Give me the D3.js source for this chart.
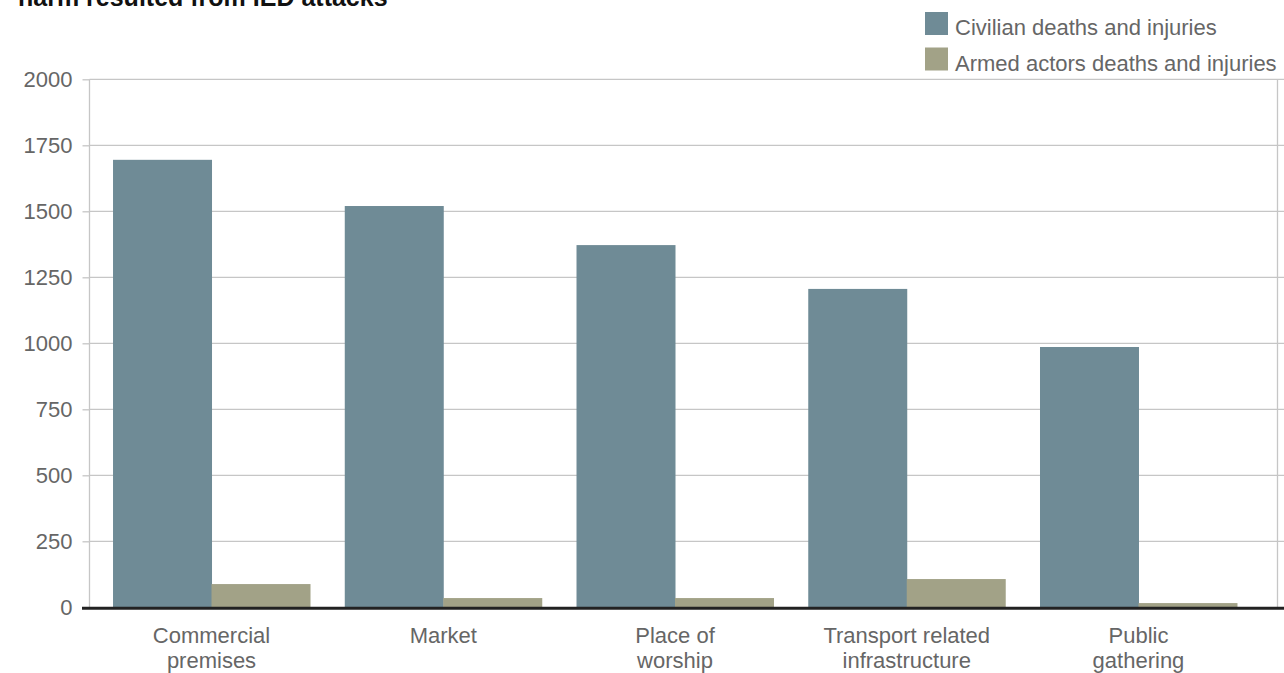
<!DOCTYPE html>
<html>
<head>
<meta charset="utf-8">
<script src="https://cdn.jsdelivr.net/npm/d3@7"></script>
<style>
  html, body { margin: 0; padding: 0; background: #fff; }
  svg { display: block; font-family: "Liberation Sans", Arial, Helvetica, sans-serif; }
</style>
</head>
<body>
<svg id="chart" width="1284" height="673"></svg>
<script>
// Deaths and injuries by target type
const categories = ["Commercial premises", "Market", "Place of worship", "Transport related infrastructure", "Public gathering"];
const categoryLines = [["Commercial", "premises"], ["Market"], ["Place of", "worship"], ["Transport related", "infrastructure"], ["Public", "gathering"]];
const seriesNames = ["Civilian deaths and injuries", "Armed actors deaths and injuries"];
const civilian = [1695, 1520, 1372, 1206, 986];
const armed = [88, 35, 35, 107, 16];
const yTicks = [0, 250, 500, 750, 1000, 1250, 1500, 1750, 2000];
const titleText = "harm resulted from IED attacks";

const colors = ["#6f8b96", "#a2a287"];
const textColor = "#666666";

const svg = d3.select("#chart");
const W = 1284, H = 673;
const plot = { left: 89.5, right: 1277.5, top: 79.3, bottom: 607.3 };

const x = d3.scaleBand()
  .domain(categories)
  .range([80, 1270])
  .paddingInner(0.15)
  .paddingOuter(0.1425);

const xSeries = d3.scaleBand()
  .domain(seriesNames)
  .range([0, x.bandwidth()]);

const y = d3.scaleLinear()
  .domain([0, 2000])
  .range([plot.bottom, plot.top]);

// Title (first visible line)
svg.append("text")
  .attr("x", 18)
  .attr("y", 5.5)
  .attr("font-size", 25)
  .attr("font-weight", "bold")
  .attr("fill", "#111")
  .text(titleText);

// Horizontal gridlines
svg.append("g")
  .selectAll("line")
  .data(yTicks.filter(d => d > 0))
  .join("line")
  .attr("x1", plot.left)
  .attr("x2", W)
  .attr("y1", d => y(d))
  .attr("y2", d => y(d))
  .attr("stroke", "#c6c6c6")
  .attr("stroke-width", 1.3);

// Frame sides
svg.append("line")
  .attr("x1", plot.left).attr("x2", plot.left)
  .attr("y1", plot.top).attr("y2", plot.bottom)
  .attr("stroke", "#c6c6c6").attr("stroke-width", 1.3);
svg.append("line")
  .attr("x1", plot.right).attr("x2", plot.right)
  .attr("y1", plot.top).attr("y2", plot.bottom)
  .attr("stroke", "#c6c6c6").attr("stroke-width", 1.3);

// Y axis: ticks and labels
const yAxis = d3.axisLeft(y)
  .tickValues(yTicks)
  .tickSize(7)
  .tickPadding(10)
  .tickFormat(d3.format("d"));

const yg = svg.append("g")
  .attr("transform", `translate(${plot.left},0)`)
  .call(yAxis);
yg.select(".domain").remove();
yg.selectAll(".tick line").attr("stroke", "#c6c6c6").attr("stroke-width", 1.3);
yg.selectAll(".tick text")
  .attr("font-size", 22)
  .attr("font-family", "Liberation Sans, Arial, sans-serif")
  .attr("fill", textColor);

// Bars
const groups = svg.append("g")
  .selectAll("g")
  .data(categories.map((c, i) => ({ c, vals: [civilian[i], armed[i]] })))
  .join("g")
  .attr("transform", d => `translate(${x(d.c)},0)`);

groups.selectAll("rect")
  .data(d => d.vals.map((v, j) => ({ name: seriesNames[j], v, j })))
  .join("rect")
  .attr("x", d => xSeries(d.name))
  .attr("width", xSeries.bandwidth() + 0.5)
  .attr("y", d => y(d.v))
  .attr("height", d => y(0) - y(d.v))
  .attr("fill", d => colors[d.j]);

// Baseline
svg.append("line")
  .attr("x1", 82).attr("x2", W)
  .attr("y1", y(0) + 1).attr("y2", y(0) + 1)
  .attr("stroke", "#222").attr("stroke-width", 3);

// Category labels
const xLabels = svg.append("g")
  .selectAll("text")
  .data(categories.map((c, i) => ({ c, lines: categoryLines[i] })))
  .join("text")
  .attr("x", d => x(d.c) + x.bandwidth() / 2)
  .attr("y", 643)
  .attr("text-anchor", "middle")
  .attr("font-size", 22)
  .attr("fill", textColor);

xLabels.selectAll("tspan")
  .data(d => d.lines)
  .join("tspan")
  .attr("x", function () { return d3.select(this.parentNode).attr("x"); })
  .attr("dy", (d, i) => i === 0 ? 0 : 25)
  .text(d => d);

// Legend
const legend = svg.append("g")
  .selectAll("g")
  .data(seriesNames)
  .join("g")
  .attr("transform", (d, i) => `translate(925,${35 + i * 35.5})`);

legend.append("rect")
  .attr("x", 0)
  .attr("y", -23)
  .attr("width", 23)
  .attr("height", 23)
  .attr("fill", (d, i) => colors[i]);

legend.append("text")
  .attr("x", 30)
  .attr("y", 0)
  .attr("font-size", 22)
  .attr("fill", textColor)
  .text(d => d);
</script>
</body>
</html>
